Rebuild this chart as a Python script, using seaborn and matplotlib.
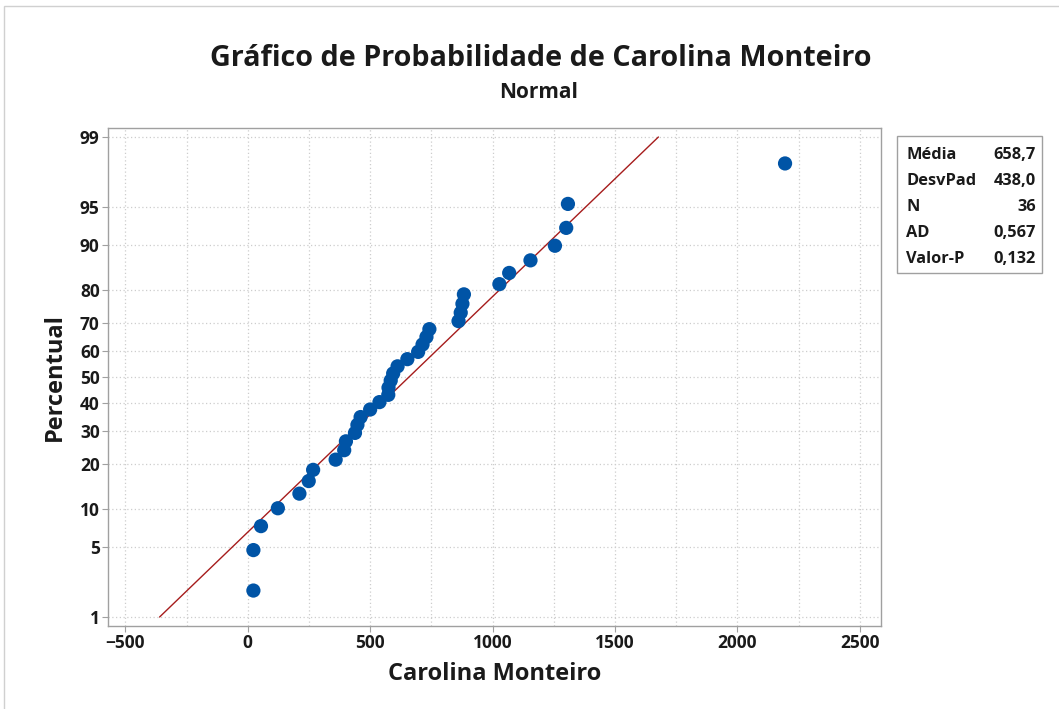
from statistics import NormalDist

import matplotlib
matplotlib.use('Agg')
import matplotlib.pyplot as plt
from matplotlib.patches import Rectangle
import numpy as np
import pandas as pd
import seaborn as sns

# dados (valores ordenados)
valores = [23, 23, 54, 123, 211, 249, 267, 359, 394, 401,
           438, 448, 461, 500, 538, 574, 575, 584, 594, 612,
           652, 696, 714, 730, 742, 861, 870, 877, 883, 1028,
           1068, 1155, 1255, 1301, 1308, 2195]
percent_ticks = [1, 5, 10, 20, 30, 40, 50, 60, 70, 80, 90, 95, 99]
x_ticks = [-500, 0, 500, 1000, 1500, 2000, 2500]
media = 658.7
desvpad = 438.0
n_obs = 36
ad = 0.567
valor_p = 0.132

sns.set_style('white')
plt.rcParams['font.family'] = ['Open Sans', 'DejaVu Sans']
plt.rcParams['font.weight'] = 'bold'

nd = NormalDist()
_ppf = np.vectorize(lambda v: nd.inv_cdf(v / 100.0), otypes=[float])
_cdf = np.vectorize(lambda v: nd.cdf(v) * 100.0, otypes=[float])


def fwd(p):
    p = np.clip(np.asarray(p, dtype=float), 1e-6, 100 - 1e-6)
    return _ppf(p)


def inv(z):
    return _cdf(np.asarray(z, dtype=float))


n = len(valores)
df = pd.DataFrame({'x': sorted(valores),
                   'p': [(i - 0.3) / (n + 0.4) * 100 for i in range(1, n + 1)]})
p_line = [1, 99]
df_line = pd.DataFrame({'p': p_line,
                        'x': [media + desvpad * nd.inv_cdf(p / 100) for p in p_line]})

fig = plt.figure(figsize=(10.59, 7.09), dpi=100)
fig.patch.set_facecolor('white')
ax = fig.add_axes([108 / 1059, 1 - 626 / 709, 773 / 1059, 498 / 709])
ax.set_yscale('function', functions=(fwd, inv))

sns.lineplot(data=df_line, x='x', y='p', ax=ax, color='#A61C1C', linewidth=1, sort=False)
sns.scatterplot(data=df, x='x', y='p', ax=ax, color='#0054A6', s=105, edgecolor='none', zorder=5)

ax.set_xlim(-571, 2587)
ax.set_ylim(0.79, 99.21)
ax.set_xticks(x_ticks)
ax.set_xticks(np.arange(-250, 2501, 500), minor=True)
ax.set_yticks(percent_ticks)
ax.set_yticklabels([str(t) for t in percent_ticks])
ax.yaxis.set_minor_locator(matplotlib.ticker.NullLocator())
ax.tick_params(axis='both', which='major', labelsize=12.5, length=4, width=0.8,
               color='#A0A0A0', labelcolor='#1A1A1A', pad=2, direction='out',
               bottom=True, left=True)
ax.tick_params(axis='x', which='minor', length=0)
ax.grid(which='both', linestyle=(0, (1, 2)), color='#CDCDCD', linewidth=0.9)
for s in ax.spines.values():
    s.set_color('#A0A0A0')
    s.set_linewidth(1)

ax.set_xlabel('Carolina Monteiro', fontsize=17, fontweight='bold', color='#1A1A1A', va='center')
ax.set_ylabel('Percentual', fontsize=17, fontweight='bold', color='#1A1A1A', va='center')
ax.xaxis.set_label_coords(0.5, -0.096)
ax.yaxis.set_label_coords(-0.0686, 0.5)

fig.text(0.511, 0.918, 'Gráfico de Probabilidade de Carolina Monteiro', ha='center', va='center',
         fontsize=20.7, fontweight='bold', color='#1A1A1A')
fig.text(0.5085, 0.869, 'Normal', ha='center', va='center', fontsize=15,
         fontweight='bold', color='#1A1A1A')

# caixa de estatisticas
fig.patches.append(Rectangle((897 / 1059, 1 - 273 / 709), 145 / 1059, 137 / 709,
                             transform=fig.transFigure, fill=False, edgecolor='#A0A0A0', linewidth=1))
fmt = lambda v, d: f'{v:.{d}f}'.replace('.', ',')
linhas = [('Média', fmt(media, 1)), ('DesvPad', fmt(desvpad, 1)), ('N', str(n_obs)),
          ('AD', fmt(ad, 3)), ('Valor-P', fmt(valor_p, 3))]
for k, (rot, val) in enumerate(linhas):
    yy = 1 - (155 + 26 * k) / 709
    fig.text(906 / 1059, yy, rot, ha='left', va='center', fontsize=11.8, fontweight='bold', color='#1A1A1A')
    fig.text(1036 / 1059, yy, val, ha='right', va='center', fontsize=11.8, fontweight='bold', color='#1A1A1A')

# moldura externa
fig.patches.append(Rectangle((4 / 1059, -0.1), 1.2, 1 - 6 / 709 + 0.1, transform=fig.transFigure,
                             fill=False, edgecolor='#D0D0D0', linewidth=1))

fig.savefig('out.png', dpi=100)
